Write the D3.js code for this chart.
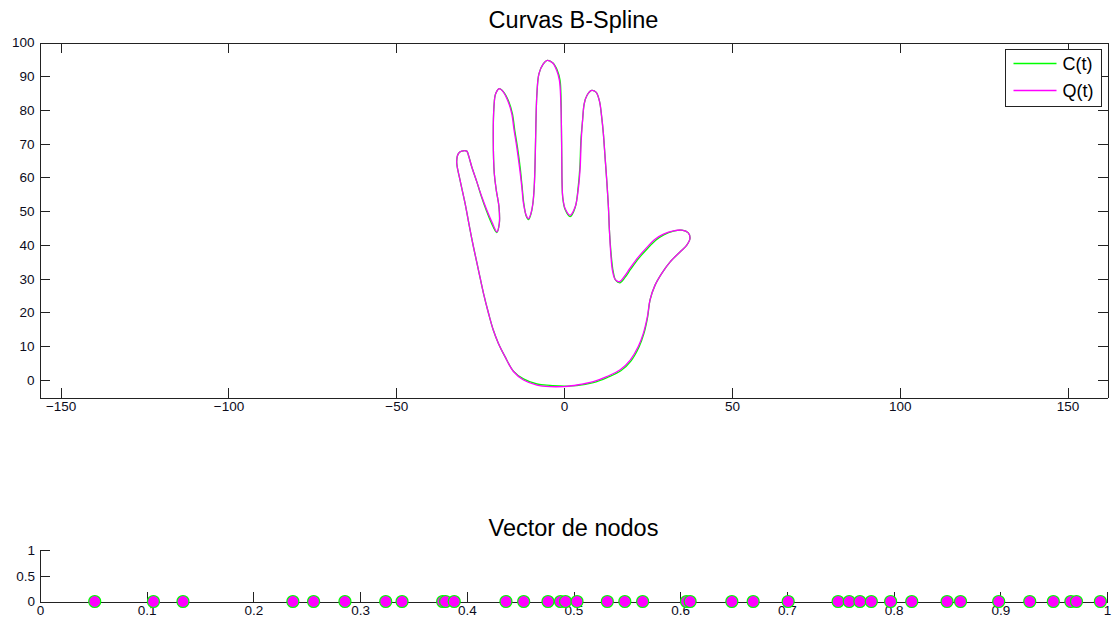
<!DOCTYPE html>
<html lang="es">
<head>
<meta charset="utf-8">
<title>Curvas B-Spline</title>
<script src="https://cdn.jsdelivr.net/npm/d3@7"></script>
<style>
  body { margin: 0; background: #fff; }
  svg { display: block; font-family: "Liberation Sans", Arial, sans-serif; }
  .axis path, .axis line { stroke: #222; shape-rendering: crispEdges; }
  .axis text { font-size: 13.5px; fill: #0c0c1c; font-family: "Liberation Sans", Arial, sans-serif; }
</style>
</head>
<body>
<script>
// Q(t): aproximada (magenta), [x, y]
var curveQ = [
  [0,-1.97],[-4.2,-1.97],[-8.1,-1.5],[-12.1,0],[-15.1,2.5],[-17.6,6.9],[-19.6,10.9],
  [-21.1,14.8],[-22.5,19.7],[-24.0,25.6],[-25.5,32.5],[-27.0,39.4],[-28.2,45.4],[-29.5,52.3],
  [-31.0,59.2],[-32.0,64.6],[-31.5,67.1],[-30.5,67.8],[-29.0,67.8],[-28.5,66.6],[-27.5,63.1],
  [-26.0,58.7],[-24.5,54.2],[-23.0,50.3],[-21.5,46.8],[-20.0,43.9],[-19.3,46.4],[-19.4,51.3],
  [-20.2,56.2],[-20.8,61.2],[-21.1,71.0],[-20.9,80.9],[-20.4,84.8],[-19.3,86.3],[-18.1,85.3],
  [-16.6,82.3],[-15.6,78.9],[-14.9,74.0],[-14.1,69.0],[-13.3,63.1],[-12.6,57.2],[-12.1,52.3],
  [-11.3,48.8],[-10.6,47.8],[-9.9,49.3],[-9.3,52.3],[-8.9,57.2],[-8.6,66.1],[-8.4,75.9],
  [-8.1,84.8],[-7.5,90.7],[-6.3,93.5],[-5.0,94.7],[-3.4,93.9],[-2.2,91.7],[-1.4,88.8],
  [-1.0,82.8],[-0.8,74.9],[-0.7,66.1],[-0.6,58.2],[-0.4,54.2],[0.3,50.8],[1.8,48.8],
  [3.3,51.3],[4.3,57.2],[4.8,63.1],[5.1,71.0],[5.5,76.9],[6.0,81.9],[6.8,84.3],[8.2,85.8],
  [9.5,85.3],[10.5,82.8],[11.2,77.9],[11.7,73.0],[12.2,66.1],[12.7,59.2],[13.2,51.3],
  [13.5,44.4],[13.9,37.5],[14.4,32.5],[15.2,29.8],[16.5,29.1],[17.9,30.6],[19.7,33.2],
  [22.1,36.4],[24.6,39.2],[27.1,41.7],[29.6,43.2],[32.6,44.2],[35.1,44.4],[37.0,43.6],
  [37.5,41.9],[36.5,39.9],[34.6,38.0],[31.6,35.0],[29.1,31.6],[27.1,28.1],[25.6,23.7],
  [24.8,18.7],[23.6,13.8],[22.1,9.9],[19.7,5.9],[16.7,3.0],[12.7,1.0],[8.7,-0.5],
  [3.8,-1.5],[0,-1.97]
];

// C(t): original (green), almost on top of Q(t)
var curveC = [
  [0,-1.8],[-4.2,-1.6],[-8.1,-1.2],[-12.1,0.3],[-15.1,2.6],[-17.6,6.9],[-19.6,10.9],
  [-21.1,14.8],[-22.5,19.7],[-24.0,25.6],[-25.5,32.5],[-27.0,39.4],[-28.2,45.4],[-29.5,52.3],
  [-31.0,59.2],[-32.0,64.6],[-31.5,67.1],[-30.5,67.8],[-29.0,67.8],[-28.5,66.6],[-27.5,63.1],
  [-26.0,58.7],[-24.6,54.2],[-23.2,50.3],[-21.7,46.6],[-20.1,43.7],[-19.3,46.4],[-19.4,51.3],
  [-20.2,56.2],[-20.8,61.2],[-21.1,71.0],[-20.9,80.9],[-20.4,84.8],[-19.3,86.3],[-18.0,85.3],
  [-16.4,82.3],[-15.4,78.9],[-14.7,74.0],[-13.9,69.0],[-13.1,63.1],[-12.5,57.2],[-12.0,52.3],
  [-11.3,48.6],[-10.6,47.5],[-9.9,49.1],[-9.3,52.3],[-8.9,57.2],[-8.6,66.1],[-8.4,75.9],
  [-8.1,84.8],[-7.5,90.7],[-6.3,93.5],[-5.0,94.7],[-3.3,93.9],[-2.0,91.7],[-1.2,88.8],
  [-0.9,82.8],[-0.8,74.9],[-0.7,66.1],[-0.6,58.2],[-0.4,54.0],[0.3,50.5],[1.8,48.4],
  [3.3,51.1],[4.2,57.2],[4.7,63.1],[5.0,71.0],[5.5,76.9],[6.0,81.9],[6.8,84.3],[8.2,85.8],
  [9.5,85.3],[10.5,82.8],[11.2,77.9],[11.7,73.0],[12.2,66.1],[12.7,59.2],[13.2,51.3],
  [13.5,44.4],[14.0,37.5],[14.6,32.3],[15.4,29.5],[16.7,28.8],[18.1,30.3],[19.9,32.9],
  [22.3,36.1],[24.8,38.9],[27.3,41.4],[29.7,43.0],[32.6,44.1],[35.1,44.4],[37.0,43.6],
  [37.5,41.9],[36.5,39.9],[34.6,38.0],[31.6,35.0],[29.1,31.6],[27.1,28.1],[25.6,23.7],
  [24.9,18.7],[23.8,13.8],[22.3,9.7],[19.9,5.6],[16.9,2.7],[12.8,0.7],[8.7,-0.8],
  [3.8,-1.7],[0,-1.8]
];

// Vector de nodos (knot values)
var knots = [
  0.0513, 0.1063, 0.1340, 0.2370, 0.2564, 0.2858, 0.3240, 0.3393, 0.3774, 0.3801,
  0.3882, 0.4367, 0.4533, 0.4761, 0.4878, 0.4925, 0.5033, 0.5317, 0.5481, 0.5648,
  0.6059, 0.6093, 0.6484, 0.6684, 0.7012, 0.7480, 0.7584, 0.7684, 0.7791, 0.7972,
  0.8170, 0.8501, 0.8627, 0.8985, 0.9276, 0.9497, 0.9661, 0.9714, 0.9938
];

var seriesNames = ["C(t)", "Q(t)"];
var seriesColors = ["#00ff00", "#ff00ff"];

var topXTicks = [-150, -100, -50, 0, 50, 100, 150];
var topYTicks = [0, 10, 20, 30, 40, 50, 60, 70, 80, 90, 100];
var knotXTicks = [0, 0.1, 0.2, 0.3, 0.4, 0.5, 0.6, 0.7, 0.8, 0.9, 1];
var knotYTicks = [0, 0.5, 1];

var W = 1114, H = 622;
var svg = d3.select("body").append("svg").attr("width", W).attr("height", H);

// ---------- top plot ----------
var L = 39.5, R = 1107.5, T = 42.5, B = 397.5;

var x = d3.scaleLinear().domain([-156.3, 161.9]).range([L, R]);
var y = d3.scaleLinear().domain([-5.2, 100]).range([B, T]);

svg.append("text")
  .attr("x", (L + R) / 2).attr("y", 28)
  .attr("text-anchor", "middle")
  .style("font-size", "23.5px").style("fill", "#000")
  .text("Curvas B-Spline");

svg.append("g").attr("class", "axis")
  .attr("transform", "translate(0," + B + ")")
  .call(d3.axisBottom(x).tickValues(topXTicks).tickSize(-10).tickSizeOuter(0).tickPadding(4));
svg.append("g").attr("class", "axis")
  .attr("transform", "translate(0," + T + ")")
  .call(d3.axisTop(x).tickValues(topXTicks).tickSize(-10).tickSizeOuter(0).tickFormat(""));
svg.append("g").attr("class", "axis")
  .attr("transform", "translate(" + L + ",0)")
  .call(d3.axisLeft(y).tickValues(topYTicks).tickSize(-10).tickSizeOuter(0).tickPadding(5));
svg.append("g").attr("class", "axis")
  .attr("transform", "translate(" + R + ",0)")
  .call(d3.axisRight(y).tickValues(topYTicks).tickSize(-10).tickSizeOuter(0).tickFormat(""));

var line = d3.line()
  .x(function(d) { return x(d[0]); })
  .y(function(d) { return y(d[1]); })
  .curve(d3.curveCatmullRom.alpha(0.5));

var curves = [curveC, curveQ];
svg.selectAll("path.curve")
  .data(curves)
  .enter()
  .append("path")
  .attr("class", "curve")
  .attr("d", line)
  .attr("fill", "none")
  .attr("stroke", function(d, i) { return seriesColors[i]; })
  .attr("stroke-width", 1.3);

// legend
var lg = svg.append("g").attr("transform", "translate(1005.5,49.5)");
lg.append("rect").attr("width", 96).attr("height", 57)
  .attr("fill", "#fff").attr("stroke", "#222");
seriesNames.forEach(function(name, i) {
  var ly = 14 + i * 27;
  lg.append("line").attr("x1", 8).attr("x2", 51).attr("y1", ly).attr("y2", ly)
    .attr("stroke", seriesColors[i]).attr("stroke-width", 1.3);
  lg.append("text").attr("x", 57).attr("y", ly).attr("dy", "0.35em")
    .style("font-size", "18px").style("fill", "#000").text(name);
});

// ---------- knot vector plot ----------
var L2 = 40, R2 = 1107, T2 = 550, B2 = 601.5;
var kx = d3.scaleLinear().domain([0, 1]).range([L2, R2]);
var ky = d3.scaleLinear().domain([0, 1]).range([B2, T2]);

svg.append("text")
  .attr("x", (L2 + R2) / 2).attr("y", 536)
  .attr("text-anchor", "middle")
  .style("font-size", "23.5px").style("fill", "#000")
  .text("Vector de nodos");

svg.append("g").attr("class", "axis")
  .attr("transform", "translate(0," + B2 + ")")
  .call(d3.axisBottom(kx).tickValues(knotXTicks).tickSize(-10).tickSizeOuter(0).tickPadding(4)
    .tickFormat(d3.format("~g")));
svg.append("g").attr("class", "axis")
  .attr("transform", "translate(" + L2 + ",0)")
  .call(d3.axisLeft(ky).tickValues(knotYTicks).tickSize(-10).tickSizeOuter(0).tickPadding(5)
    .tickFormat(d3.format("~g")));

svg.selectAll("circle.knot")
  .data(knots)
  .enter()
  .append("circle")
  .attr("class", "knot")
  .attr("cx", function(d) { return kx(d); })
  .attr("cy", ky(0))
  .attr("r", 6)
  .attr("fill", "#ff00ff")
  .attr("stroke", "#00ff00")
  .attr("stroke-width", 1.2);
</script>
</body>
</html>
